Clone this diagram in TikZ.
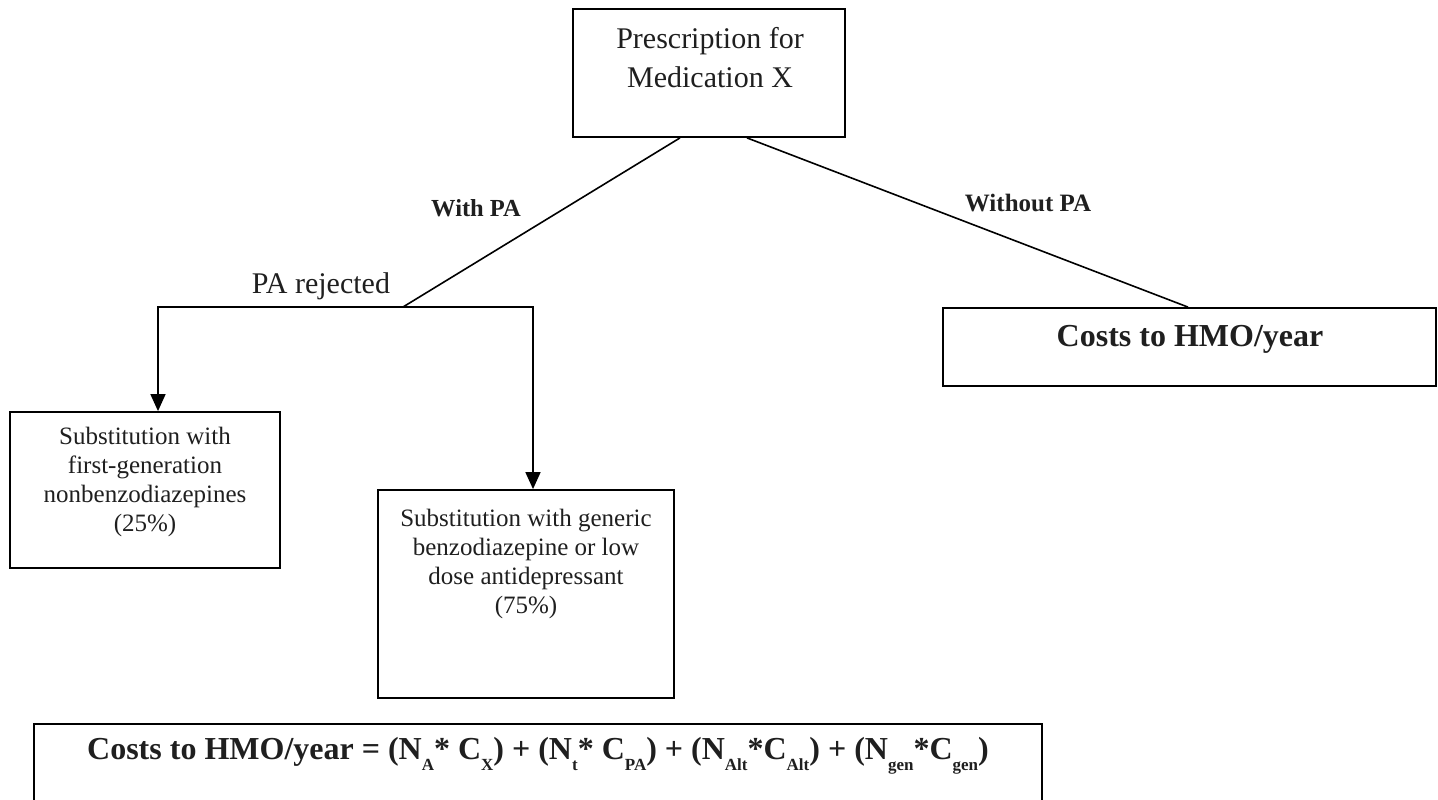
\documentclass[tikz,border=0pt]{standalone}
\usepackage{fontspec}
\setmainfont{Liberation Serif}
\usetikzlibrary{arrows.meta}
\newcommand\sbs[1]{\raisebox{-0.35em}{\fontsize{17}{17}\selectfont #1}}
\begin{document}
\begin{tikzpicture}[x=1pt,y=-1pt,
  box/.style={draw, line width=1.8pt, inner sep=0pt},
  conn/.style={line width=1.6pt},
  arr/.style={conn, -{Triangle[width=15pt,length=17pt]}},
  txt/.style={align=center, inner sep=0pt, text=black!88},
  bigtxt/.style={txt, font=\fontsize{30}{39}\selectfont},
  smalltxt/.style={txt, font=\fontsize{25}{29}\selectfont},
  boldlbl/.style={txt, font=\fontsize{24.5}{28}\selectfont\bfseries},
  boldbig/.style={txt, font=\fontsize{32}{36}\selectfont\bfseries}]
\useasboundingbox (0,0) rectangle (1438,800);
\clip (0,0) rectangle (1438,800);
% boxes
\node[box, minimum width=272pt, minimum height=128pt] (top) at (709,73) {};
\node[box, minimum width=270pt, minimum height=156pt] (box1) at (145,490) {};
\node[box, minimum width=296pt, minimum height=208pt] (box2) at (526,594) {};
\node[box, minimum width=493pt, minimum height=78pt] (box3) at (1189.5,347) {};
\node[box, minimum width=1008pt, minimum height=106pt] (formula) at (538,777) {};
% texts
\node[bigtxt] (toptext) at (710,58) {Prescription for\\Medication X};
\node[smalltxt] (box1text) at (145,482) {Substitution with\\first-generation\\nonbenzodiazepines\\(25\%)};
\node[smalltxt] (box2text) at (526,564) {Substitution with generic\\benzodiazepine or low\\dose antidepressant\\(75\%)};
\node[boldbig] (box3text) at (1190,339) {Costs to HMO/year};
\node[boldbig] (formtext) at (538,756) {Costs to HMO/year = (N\sbs{A}* C\sbs{X}) + (N\sbs{t}* C\sbs{PA}) + (N\sbs{Alt}*C\sbs{Alt}) + (N\sbs{gen}*C\sbs{gen})};
\node[bigtxt] (rej) at (321,286) {PA rejected};
\node[boldlbl] (withpa) at (476,208) {With PA};
\node[boldlbl, font=\fontsize{25}{28}\selectfont\bfseries] (withoutpa) at (1028,203) {Without PA};
% connectors
\coordinate (tw) at (680,0);
\coordinate (tn) at (747,0);
\coordinate (tb) at (1188,0);
\coordinate (j) at (403,307);
\coordinate (lc) at (158,307);
\coordinate (rc) at (533,307);
\draw[conn] (top.south -| tw) -- (j);
\draw[conn] (top.south -| tn) -- (box3.north -| tb);
\draw[arr] (j) -- (lc) -- (lc |- box1.north);
\draw[arr] (j) -- (rc) -- (rc |- box2.north);
\end{tikzpicture}
\end{document}
